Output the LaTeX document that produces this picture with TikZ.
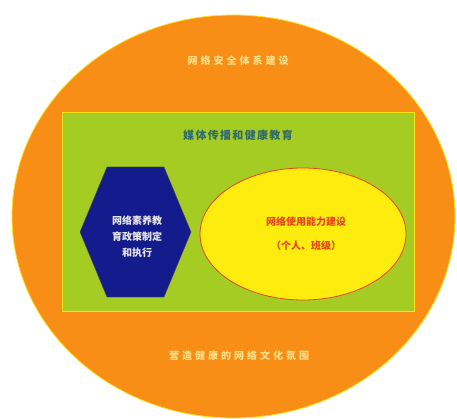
\documentclass[tikz,border=0pt]{standalone}
\usepackage{fontspec}
\newfontfamily\cjk{Noto Sans CJK SC}
\definecolor{outerorange}{HTML}{F98E17}
\definecolor{rimyellow}{HTML}{FFE11A}
\definecolor{mediagreen}{HTML}{A5CC22}
\definecolor{policyblue}{HTML}{141B8D}
\definecolor{skillyellow}{HTML}{FEEC0E}
\definecolor{skillred}{HTML}{E5461C}
\definecolor{palelabel}{HTML}{F8E08A}
\definecolor{tealtext}{HTML}{2F6A6E}
\begin{document}
\begin{tikzpicture}[x=1pt,y=-1pt,
  cjklabel/.style={font=\cjk\bfseries\fontsize{10}{16}\selectfont,inner sep=0pt,align=center}]
  \useasboundingbox (0,0) rectangle (457,419);
  \fill [white] (0,0) rectangle (457,419);
  \draw [fill=outerorange,draw=rimyellow,line width=0.8pt] (233.5,216.5) ellipse [x radius=221.5,y radius=201.5];
  \draw [fill=mediagreen,draw=rimyellow,line width=0.8pt] (62,112) rectangle (414,311);
  \draw [fill=policyblue,draw=black!70,line width=0.4pt]
    (107,167) -- (164,167) -- (191,232) -- (164,297) -- (107,297) -- (80,232) -- cycle;
  \draw [fill=skillyellow,draw=skillred,line width=0.8pt] (303,234) ellipse [x radius=103,y radius=66];
  \node [cjklabel,text=palelabel,font=\cjk\bfseries\fontsize{10}{12}\selectfont\addfontfeature{LetterSpace=30}] (security) at (238,61) {网络安全体系建设};
  \node [cjklabel,text=tealtext,font=\cjk\bfseries\fontsize{11}{13}\selectfont\addfontfeature{LetterSpace=12}] (media) at (238,135) {媒体传播和健康教育};
  \node [cjklabel,text=white!90!black] (policy) at (137,237) {网络素养教\\育政策制定\\和执行};
  \node [cjklabel,text=skillred,font=\cjk\bfseries\fontsize{10}{24}\selectfont] (skill) at (306,234) {网络使用能力建设\\（个人、班级）};
  \node [cjklabel,text=palelabel,font=\cjk\bfseries\fontsize{10}{12}\selectfont\addfontfeature{LetterSpace=30}] (culture) at (239,356) {营造健康的网络文化氛围};
\end{tikzpicture}
\end{document}
